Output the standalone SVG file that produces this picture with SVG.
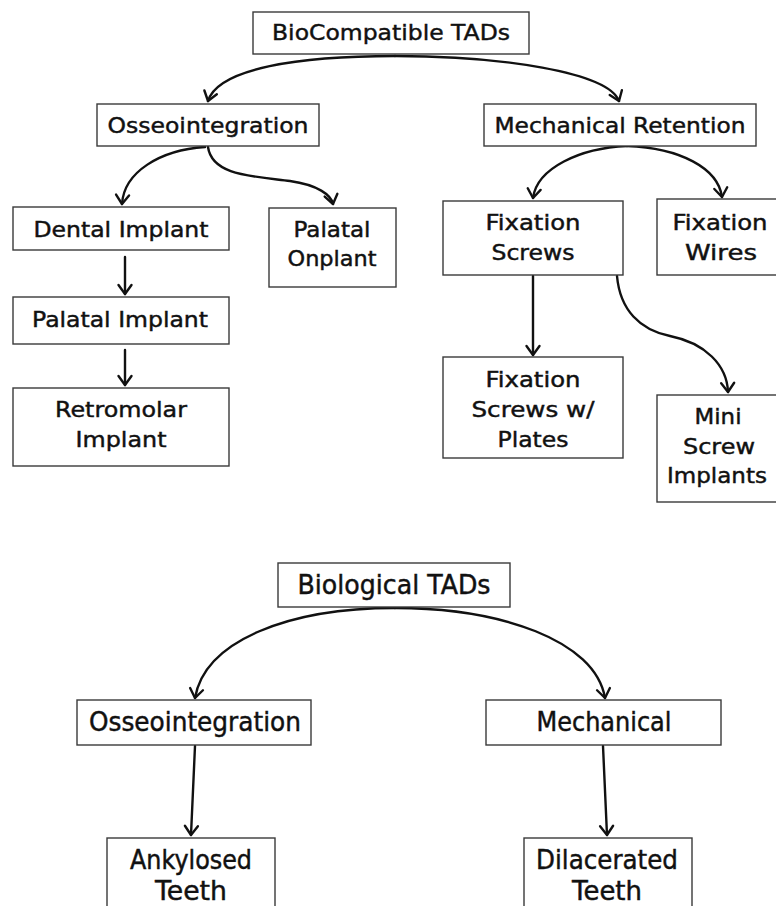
<svg xmlns="http://www.w3.org/2000/svg" width="776" height="906" viewBox="0 0 776 906">
<style>
.box{fill:#fff;stroke:#3a3a3a;stroke-width:1.4}
.t{font-family:"DejaVu Sans",sans-serif;font-size:22px;fill:#111;stroke:#111;stroke-width:0.45;text-anchor:middle}
.b{font-size:26px}
.c{fill:none;stroke:#111;stroke-width:2.4;stroke-linecap:round}
</style>
<defs>
<marker id="ah" markerUnits="userSpaceOnUse" markerWidth="18" markerHeight="18" viewBox="-11 -9 13 18" refX="0" refY="0" orient="auto">
<path d="M-9,-6.5 L0,0 L-9,6.5" fill="none" stroke="#111" stroke-width="2.4" stroke-linecap="round" stroke-linejoin="round"/>
</marker>
</defs>
<rect width="776" height="906" fill="#fff"/>
<g id="connectors">
<path class="c" marker-end="url(#ah)" d="M395 56 C300 56 218 68 208 101"/>
<path class="c" marker-end="url(#ah)" d="M395 56 C500 56 608 72 619 101"/>
<path class="c" marker-end="url(#ah)" d="M205 147 C160 150 124 172 122 204"/>
<path class="c" marker-end="url(#ah)" d="M208 147 C212 175 250 176 290 181 C318 185 331 195 333 204"/>
<path class="c" marker-end="url(#ah)" d="M125 257 L125 294"/>
<path class="c" marker-end="url(#ah)" d="M125 350 L125 385"/>
<path class="c" marker-end="url(#ah)" d="M627 146 C580 148 537 168 533 198"/>
<path class="c" marker-end="url(#ah)" d="M627 146 C680 148 718 168 722 197"/>
<path class="c" marker-end="url(#ah)" d="M533 276 L533 355"/>
<path class="c" marker-end="url(#ah)" d="M617 276 C620 310 640 330 670 336 C705 343 727 365 728 392"/>
<path class="c" marker-end="url(#ah)" d="M395 608 C290 608 205 640 195 698"/>
<path class="c" marker-end="url(#ah)" d="M395 608 C500 608 595 640 605 698"/>
<path class="c" marker-end="url(#ah)" d="M195 746 L191 835"/>
<path class="c" marker-end="url(#ah)" d="M603 746 L607 835"/>
</g>
<g id="n-biocompatible">
<rect class="box" x="253" y="12" width="276" height="42"/>
<text class="t" x="391" y="40" textLength="238" lengthAdjust="spacingAndGlyphs">BioCompatible TADs</text>
</g>
<g id="n-osseo1">
<rect class="box" x="97" y="104" width="222" height="42"/>
<text class="t" x="208" y="133" textLength="201" lengthAdjust="spacingAndGlyphs">Osseointegration</text>
</g>
<g id="n-mech-ret">
<rect class="box" x="484" y="104" width="272" height="42"/>
<text class="t" x="620" y="133" textLength="251" lengthAdjust="spacingAndGlyphs">Mechanical Retention</text>
</g>
<g id="n-dental">
<rect class="box" x="13" y="207" width="216" height="43"/>
<text class="t" x="121" y="237" textLength="175" lengthAdjust="spacingAndGlyphs">Dental Implant</text>
</g>
<g id="n-onplant">
<rect class="box" x="269" y="208" width="127" height="79"/>
<text class="t" x="332" y="237" textLength="77" lengthAdjust="spacingAndGlyphs">Palatal</text>
<text class="t" x="332" y="266" textLength="89" lengthAdjust="spacingAndGlyphs">Onplant</text>
</g>
<g id="n-palatal-implant">
<rect class="box" x="13" y="297" width="216" height="47"/>
<text class="t" x="120" y="327" textLength="176" lengthAdjust="spacingAndGlyphs">Palatal Implant</text>
</g>
<g id="n-retromolar">
<rect class="box" x="13" y="388" width="216" height="78"/>
<text class="t" x="121" y="417" textLength="132" lengthAdjust="spacingAndGlyphs">Retromolar</text>
<text class="t" x="121" y="447" textLength="91" lengthAdjust="spacingAndGlyphs">Implant</text>
</g>
<g id="n-fix-screws">
<rect class="box" x="443" y="201" width="180" height="74"/>
<text class="t" x="533" y="230" textLength="95" lengthAdjust="spacingAndGlyphs">Fixation</text>
<text class="t" x="533" y="260" textLength="83" lengthAdjust="spacingAndGlyphs">Screws</text>
</g>
<g id="n-fix-wires">
<rect class="box" x="657" y="199" width="135" height="76"/>
<text class="t" x="720" y="230" textLength="95" lengthAdjust="spacingAndGlyphs">Fixation</text>
<text class="t" x="721" y="260" textLength="72" lengthAdjust="spacingAndGlyphs">Wires</text>
</g>
<g id="n-fix-plates">
<rect class="box" x="443" y="357" width="180" height="101"/>
<text class="t" x="533" y="387" textLength="95" lengthAdjust="spacingAndGlyphs">Fixation</text>
<text class="t" x="533" y="417" textLength="123" lengthAdjust="spacingAndGlyphs">Screws w/</text>
<text class="t" x="533" y="447" textLength="71" lengthAdjust="spacingAndGlyphs">Plates</text>
</g>
<g id="n-mini">
<rect class="box" x="657" y="395" width="135" height="107"/>
<text class="t" x="718" y="424" textLength="47" lengthAdjust="spacingAndGlyphs">Mini</text>
<text class="t" x="719" y="454" textLength="72" lengthAdjust="spacingAndGlyphs">Screw</text>
<text class="t" x="717" y="483" textLength="100" lengthAdjust="spacingAndGlyphs">Implants</text>
</g>
<g id="n-biological">
<rect class="box" x="278" y="563" width="232" height="44"/>
<text class="t b" x="394" y="594" textLength="193" lengthAdjust="spacingAndGlyphs">Biological TADs</text>
</g>
<g id="n-osseo2">
<rect class="box" x="77" y="700" width="234" height="45"/>
<text class="t b" x="195" y="731" textLength="212" lengthAdjust="spacingAndGlyphs">Osseointegration</text>
</g>
<g id="n-mechanical">
<rect class="box" x="486" y="700" width="235" height="45"/>
<text class="t b" x="604" y="731" textLength="135" lengthAdjust="spacingAndGlyphs">Mechanical</text>
</g>
<g id="n-ankylosed">
<rect class="box" x="107" y="838" width="168" height="80"/>
<text class="t b" x="191" y="869" textLength="122" lengthAdjust="spacingAndGlyphs">Ankylosed</text>
<text class="t b" x="191" y="900" textLength="72" lengthAdjust="spacingAndGlyphs">Teeth</text>
</g>
<g id="n-dilacerated">
<rect class="box" x="524" y="838" width="168" height="80"/>
<text class="t b" x="607" y="869" textLength="142" lengthAdjust="spacingAndGlyphs">Dilacerated</text>
<text class="t b" x="607" y="900" textLength="70" lengthAdjust="spacingAndGlyphs">Teeth</text>
</g>
</svg>
